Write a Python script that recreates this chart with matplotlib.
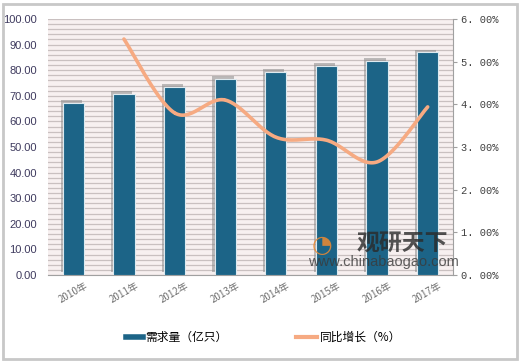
import numpy as np
import matplotlib
matplotlib.use("Agg")
import matplotlib.pyplot as plt
import matplotlib.patheffects as pe
from matplotlib.lines import Line2D
from matplotlib.patches import Rectangle

plt.rcParams['font.family'] = ['Liberation Sans', 'Noto Sans CJK SC', 'DejaVu Sans']

years = ['2010年', '2011年', '2012年', '2013年', '2014年', '2015年', '2016年', '2017年']
demand = [67.2, 70.7, 73.6, 76.6, 79.2, 81.8, 83.7, 87.0]
growth_years = ['2011年', '2012年', '2013年', '2014年', '2015年', '2016年', '2017年']
growth = [5.53, 3.80, 4.10, 3.23, 3.16, 2.65, 3.94]

bar_color = '#1C6487'
line_color = '#F6AA82'
bg_color = '#F7F0F0'
grid_color = '#C9C0C0'

fig = plt.figure(figsize=(5.2, 3.63), dpi=100)
fig.patch.set_facecolor('white')
ax = fig.add_axes([48/520, 88/363, (453-48)/520, (275-19)/363])
ax.set_facecolor(bg_color)

x = np.arange(len(years))
bars = ax.bar(x, demand, width=0.42, color=bar_color, edgecolor='#DDEAF0', linewidth=0.8, zorder=3)
for b in bars:
    b.set_path_effects([pe.SimplePatchShadow(offset=(-1.5, 2), shadow_rgbFace='#8a8a8a', alpha=0.55), pe.Normal()])

ax.set_xlim(-0.5, len(years) - 0.5)
ax.set_ylim(0, 100)
ax.set_yticks(np.arange(0, 101, 10))
ax.set_yticks(np.arange(0, 101, 2), minor=True)
ax.yaxis.grid(True, which='both', color=grid_color, linewidth=0.9, zorder=0)
ax.set_axisbelow(True)
ax.set_yticklabels([f'{v:.2f}' for v in np.arange(0, 101, 10)], color='#3E3A5E', fontsize=8)
ax.tick_params(axis='y', which='both', length=0, pad=8)
ax.set_xticks(x)
ax.set_xticklabels(years, rotation=30, fontsize=7, color='#707070', family=['Noto Sans CJK SC'])
ax.tick_params(axis='x', length=0, pad=4)
for s in ['top', 'left', 'right']:
    ax.spines[s].set_visible(False)
ax.spines['bottom'].set_color('#A0A0A0')

ax2 = ax.twinx()
ax2.set_ylim(0, 6)
gx = np.array([years.index(g) for g in growth_years], dtype=float)
gy = np.array(growth)
# Catmull-Rom style smoothing for drawing (rendering only)
pts = np.column_stack([gx, gy])
sx, sy = [], []
P = np.vstack([pts[0], pts, pts[-1]])
for i in range(1, len(P) - 2):
    p0, p1, p2, p3 = P[i-1], P[i], P[i+1], P[i+2]
    t = np.linspace(0, 1, 30)[:, None]
    seg = 0.5 * ((2*p1) + (-p0 + p2)*t + (2*p0 - 5*p1 + 4*p2 - p3)*t**2 + (-p0 + 3*p1 - 3*p2 + p3)*t**3)
    sx.extend(seg[:, 0]); sy.extend(seg[:, 1])
ax2.plot(sx, sy, color=line_color, linewidth=2.6, solid_capstyle='round', zorder=5)
ax2.set_yticks(np.arange(0, 6.01, 1))
ax2.set_yticklabels([f'{v:.2f}%'.replace('.', '. ') for v in np.arange(0, 6.01, 1)],
                    color='#404040', fontsize=7.5, family=['Liberation Mono'])
ax2.tick_params(axis='y', length=3, color='#A0A0A0', pad=3)
for s in ['top', 'left', 'bottom']:
    ax2.spines[s].set_visible(False)
ax2.spines['right'].set_color('#A0A0A0')

# watermark
fig.text(357/520, (363-251)/363, '观研天下', fontsize=16.5, fontweight='bold', color='#2a2a2a', alpha=0.8,
         family=['Noto Sans CJK SC'])
fig.text(308/520, (363-266)/363, 'www.chinabaogao.com', fontsize=10.5, color='#3a3a3a', alpha=0.8)
fig.text(312/520, (363-252)/363, '◔', fontsize=17, color='#F08A30', alpha=0.85, family=['DejaVu Sans'])

# legend
h1 = Line2D([], [], color=bar_color, linewidth=4)
h2 = Line2D([], [], color=line_color, linewidth=3)
fig.legend([h1], ['需求量（亿只）'], loc='center', bbox_to_anchor=(0.34, 0.07), frameon=False,
           prop={'family': ['Noto Sans CJK SC'], 'size': 8.5}, handlelength=1.5, handletextpad=0.2)
fig.legend([h2], ['同比增长（%）'], loc='center', bbox_to_anchor=(0.67, 0.07), frameon=False,
           prop={'family': ['Noto Sans CJK SC'], 'size': 8.5}, handlelength=1.8, handletextpad=0.2)

fig.add_artist(Rectangle((3/520, 4/363), 514/520, 355/363, transform=fig.transFigure,
                         fill=False, edgecolor='#C8C8C8', linewidth=2))

fig.savefig('out.png', dpi=100)
